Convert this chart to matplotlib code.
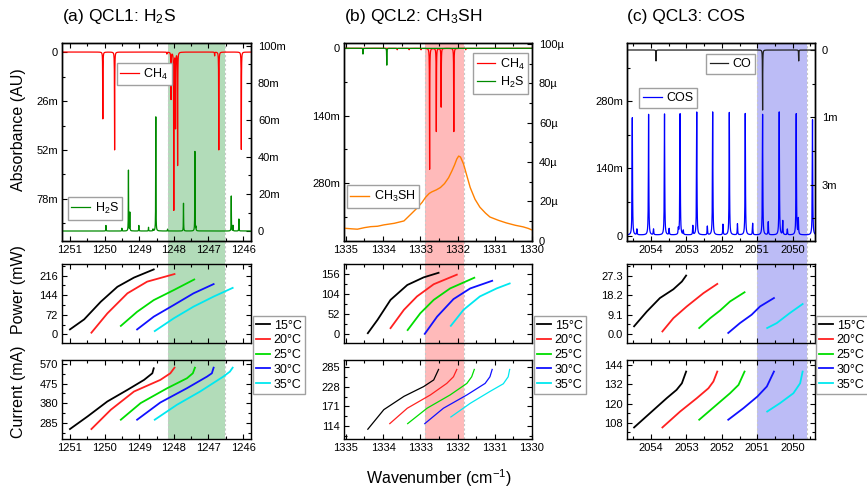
import numpy as np
import matplotlib
matplotlib.use('Agg')
import matplotlib.pyplot as plt
from matplotlib.ticker import (EngFormatter, MultipleLocator, AutoMinorLocator,
                               FixedLocator, FixedFormatter, FormatStrFormatter)
from matplotlib.transforms import blended_transform_factory
from matplotlib.patches import Rectangle
from matplotlib.lines import Line2D

plt.rcParams['font.family'] = ['Liberation Sans', 'DejaVu Sans']
plt.rcParams['mathtext.default'] = 'regular'

# ------------------------------------------------------------------ data
TEMPS = ['15°C', '20°C', '25°C', '30°C', '35°C']
TEMP_COLORS = ['#000000', '#ff2020', '#00dd00', '#1010ff', '#00e8f0']

# ---- Panel (a) QCL1: H2S
A_CH4_POS = [1250.05, 1249.71, 1248.20, 1248.08, 1248.00, 1247.95, 1247.89, 1246.82, 1246.70, 1246.05]
A_CH4_DEPTH = [35.5e-3, 52e-3, 1e-3, 25e-3, 84e-3, 40e-3, 60e-3, 2e-3, 52e-3, 52e-3]
A_H2S_POS = [1249.96, 1249.50, 1249.31, 1249.27, 1249.01, 1248.73, 1248.60, 1248.52,
             1248.18, 1247.72, 1247.39, 1247.36, 1246.34, 1246.29, 1246.12]
A_H2S_HEIGHT = [3e-3, 1.5e-3, 33e-3, 10e-3, 3e-3, 2e-3, 1e-3, 62e-3,
                1e-3, 15e-3, 43e-3, 2e-3, 19e-3, 3e-3, 6.5e-3]
A_SPAN = (1248.18, 1246.52)

A_POW_WN = [[1251.0, 1250.59, 1250.11, 1249.63, 1249.15, 1248.58],
            [1250.38, 1249.92, 1249.34, 1248.77, 1247.98],
            [1249.53, 1249.06, 1248.58, 1248.0, 1247.41],
            [1249.06, 1248.58, 1248.0, 1247.43, 1246.85],
            [1248.55, 1248.0, 1247.43, 1246.85, 1246.30]]
A_POW = [[18, 55, 120, 175, 209, 239],
         [6, 77, 151, 194, 222],
         [31, 83, 126, 163, 202],
         [18, 65, 108, 151, 185],
         [12, 59, 102, 139, 171]]
A_CUR_WN = [[1251.0, 1250.49, 1249.92, 1249.34, 1248.86, 1248.62, 1248.58],
            [1250.38, 1249.82, 1249.15, 1248.39, 1248.10, 1247.98],
            [1249.53, 1248.96, 1248.19, 1247.62, 1247.45, 1247.39],
            [1249.06, 1248.39, 1247.62, 1247.04, 1246.90, 1246.85],
            [1248.55, 1247.91, 1247.24, 1246.57, 1246.38, 1246.30]]
A_CUR = [[256, 317, 389, 445, 493, 525, 549],
         [256, 349, 437, 493, 525, 552],
         [301, 381, 453, 501, 525, 552],
         [301, 384, 453, 509, 525, 552],
         [301, 373, 437, 509, 533, 552]]

# ---- Panel (b) QCL2: CH3SH
B_CH4_POS = [1333.62, 1333.30, 1332.98, 1332.75, 1332.57, 1332.44, 1332.10, 1331.78]
B_CH4_DEPTH = [3e-3, 3e-3, 3e-3, 252e-3, 173e-3, 122e-3, 173e-3, 3e-3]
B_H2S_POS = [1334.54, 1333.90]
B_H2S_DEPTH = [12e-3, 35e-3]
B_CH3SH_WN = [1335.05, 1334.85, 1334.69, 1334.50, 1334.33, 1334.15, 1333.98, 1333.70, 1333.44,
              1333.25, 1333.09, 1332.95, 1332.86, 1332.76, 1332.69, 1332.57, 1332.46, 1332.35,
              1332.24, 1332.15, 1332.08, 1332.02, 1331.97, 1331.92, 1331.84, 1331.75, 1331.66,
              1331.53, 1331.40, 1331.25, 1331.13, 1330.90, 1330.69, 1330.45, 1330.24, 1330.10, 1330.0]
B_CH3SH = [6.3e-6, 6.0e-6, 5.8e-6, 6.6e-6, 7.1e-6, 7.3e-6, 8.0e-6, 8.8e-6, 10.0e-6,
           13.5e-6, 16.5e-6, 19.5e-6, 22.0e-6, 24.0e-6, 24.8e-6, 25.8e-6, 27.0e-6, 29.0e-6,
           32.0e-6, 35.5e-6, 38.5e-6, 41.5e-6, 43.0e-6, 42.5e-6, 39.0e-6, 33.0e-6, 27.0e-6,
           21.0e-6, 17.0e-6, 14.0e-6, 12.0e-6, 10.3e-6, 9.0e-6, 7.8e-6, 7.0e-6, 6.2e-6, 5.4e-6]
B_SPAN = (1332.87, 1331.83)

B_POW_WN = [[1334.41, 1334.15, 1333.80, 1333.35, 1332.91, 1332.51],
            [1333.80, 1333.44, 1333.09, 1332.64, 1332.02],
            [1333.34, 1333.0, 1332.64, 1332.20, 1331.55],
            [1332.88, 1332.55, 1332.11, 1331.66, 1331.07],
            [1332.18, 1331.84, 1331.40, 1330.95, 1330.60]]
B_POW = [[1.7, 36.6, 89, 128, 148, 160],
         [15, 63, 98, 130, 155],
         [10, 54, 89, 119, 147],
         [0, 45, 91, 119, 139],
         [21, 63, 98, 119, 132]]
B_CUR_WN = [[1334.41, 1333.98, 1333.44, 1332.91, 1332.64, 1332.51],
            [1333.82, 1333.35, 1332.73, 1332.29, 1332.11, 1332.02],
            [1333.34, 1332.82, 1332.20, 1331.75, 1331.62, 1331.55],
            [1332.88, 1332.38, 1331.75, 1331.26, 1331.13, 1331.07],
            [1332.18, 1331.66, 1331.13, 1330.77, 1330.64, 1330.60]]
B_CUR = [[106, 162, 200, 228, 247, 277],
         [122, 166, 204, 237, 256, 277],
         [122, 166, 204, 237, 256, 277],
         [122, 166, 204, 237, 256, 277],
         [141, 180, 214, 236, 256, 277]]

# ---- Panel (c) QCL3: COS
C_COS_POS = [2054.53, 2054.07, 2053.62, 2053.18, 2052.71, 2052.26, 2051.79, 2051.34,
             2050.85, 2050.38, 2049.90, 2049.44,
             2054.40, 2053.93, 2053.49, 2053.23, 2053.09, 2052.82, 2052.41, 2051.97,
             2051.56, 2051.13, 2050.69, 2050.28, 2050.15, 2049.84]
C_COS_HEIGHT = [244e-3, 251e-3, 252e-3, 252e-3, 256e-3, 256e-3, 255e-3, 253e-3,
                251e-3, 256e-3, 252e-3, 240e-3,
                12e-3, 12e-3, 13e-3, 12e-3, 9e-3, 19e-3, 18e-3, 22e-3,
                23e-3, 24e-3, 27e-3, 29e-3, 12e-3, 33e-3]
C_COS_BASE = 1.5e-3
C_CO_POS = [2053.86, 2050.85, 2049.83]
C_CO_DEPTH = [0.245e-3, 1.34e-3, 0.245e-3]
C_SPAN = (2051.0, 2049.6)

C_POW_WN = [[2054.48, 2054.12, 2053.75, 2053.37, 2053.13, 2053.01],
            [2053.68, 2053.37, 2052.99, 2052.52, 2052.13],
            [2052.64, 2052.33, 2052.05, 2051.77, 2051.36],
            [2051.82, 2051.49, 2051.16, 2050.92, 2050.53],
            [2050.72, 2050.45, 2050.08, 2049.72]]
C_POW = [[3.6, 10.5, 16.8, 20.9, 24.5, 27.3],
         [1.2, 7.4, 12.9, 19.1, 23.4],
         [2.8, 7.4, 11.0, 15.2, 19.5],
         [0.5, 5.1, 9.0, 12.9, 16.8],
         [2.8, 5.1, 9.8, 14.0]]
C_CUR_WN = [[2054.48, 2054.03, 2053.56, 2053.28, 2053.13, 2053.01],
            [2053.68, 2053.18, 2052.71, 2052.38, 2052.24, 2052.13],
            [2052.64, 2052.15, 2051.77, 2051.53, 2051.36],
            [2051.82, 2051.39, 2051.0, 2050.73, 2050.53],
            [2050.72, 2050.36, 2049.98, 2049.79, 2049.72]]
C_CUR = [[105.1, 114.0, 123.3, 128.5, 132.6, 139.9],
         [105.1, 115.0, 123.3, 129.5, 133.7, 139.9],
         [109.9, 119.2, 126.4, 131.6, 139.9],
         [109.9, 117.1, 124.3, 130.6, 139.9],
         [115.0, 120.2, 126.4, 132.6, 139.9]]

TITLES = ['(a) QCL1: H$_2$S', '(b) QCL2: CH$_3$SH', '(c) QCL3: COS']

# ------------------------------------------------------------------ layout
W, H = 867, 490
fig = plt.figure(figsize=(W / 100, H / 100), dpi=100)


def rect(l, t, r, b):
    return [l / W, 1 - b / H, (r - l) / W, (b - t) / H]


COLS = [(62, 251), (344, 532), (627, 815)]
ROWS = [(43, 241), (264, 343), (360, 439)]
XLIMS = [(1251.23, 1245.77), (1335.05, 1330.0), (2054.68, 2049.37)]
SPANS = [A_SPAN, B_SPAN, C_SPAN]
SPAN_COLORS = ['#b2dcb9', '#ffbaba', '#bcbcf6']

TICK_FS = 8
LEG_FS = 9
eng = EngFormatter(sep='')


def style(ax, right=True):
    ax.set_facecolor('none')
    ax.tick_params(which='both', direction='in', top=True, right=right, labelsize=TICK_FS, pad=3)
    ax.tick_params(which='major', length=3.5, width=0.8)
    ax.tick_params(which='minor', length=2.3, width=0.8)
    for s in ax.spines.values():
        s.set_linewidth(1.0)


def lorentz(x, pos, amp, w):
    y = np.zeros_like(x)
    for p, a in zip(pos, amp):
        y += a * w ** 2 / ((x - p) ** 2 + w ** 2)
    return y


axes = []
for ci, (l, r) in enumerate(COLS):
    col = []
    for ri, (t, b) in enumerate(ROWS):
        ax = fig.add_axes(rect(l, t, r, b))
        ax.set_xlim(*XLIMS[ci])
        ax.xaxis.set_major_locator(MultipleLocator(1))
        ax.xaxis.set_minor_locator(MultipleLocator(0.5))
        ax.xaxis.set_major_formatter(FormatStrFormatter('%d'))
        col.append(ax)
    axes.append(col)

# shaded laser windows spanning all three rows
for ci in range(3):
    tr = blended_transform_factory(axes[ci][0].transData, fig.transFigure)
    x0, x1 = SPANS[ci]
    y0, y1 = 1 - ROWS[2][1] / H, 1 - ROWS[0][0] / H
    fig.add_artist(Rectangle((x0, y0), x1 - x0, y1 - y0, transform=tr,
                             facecolor=SPAN_COLORS[ci], edgecolor='none', zorder=-1))
    for xv in (x0, x1):
        fig.add_artist(Line2D([xv, xv], [y0, y1], transform=tr, color='#c8c8c8',
                              lw=0.8, ls=(0, (2, 2)), zorder=-0.5))

leg_kw = dict(fontsize=LEG_FS, fancybox=False, edgecolor='#a0a0a0', framealpha=1,
              borderaxespad=0, borderpad=0.3, handlelength=1.5, handletextpad=0.35,
              labelspacing=0.25)

# ---- top (a)
ax = axes[0][0]
axr = ax.twinx()
xa = np.linspace(1245.77, 1251.23, 9000)
l1, = ax.plot(xa, lorentz(xa, A_CH4_POS, A_CH4_DEPTH, 0.004), color='#ff0000', lw=0.9)
ax.set_ylim(100.3e-3, -4.8e-3)
ax.yaxis.set_major_locator(FixedLocator([0, 26e-3, 52e-3, 78e-3]))
ax.yaxis.set_minor_locator(FixedLocator([13e-3, 39e-3, 65e-3, 91e-3]))
ax.yaxis.set_major_formatter(eng)
l2, = axr.plot(xa, lorentz(xa, A_H2S_POS, A_H2S_HEIGHT, 0.004), color='#008a00', lw=0.9)
axr.set_ylim(-5.4e-3, 101.6e-3)
axr.yaxis.set_major_locator(MultipleLocator(20e-3))
axr.yaxis.set_minor_locator(MultipleLocator(10e-3))
axr.yaxis.set_major_formatter(eng)
style(ax, right=False)
style(axr)
axr.tick_params(which='both', left=False, top=False, pad=5)
lg = axr.legend([l1], ['CH$_4$'], loc='upper left', bbox_to_anchor=(0.289, 0.90), **leg_kw)
axr.add_artist(lg)
axr.legend([l2], ['H$_2$S'], loc='upper left', bbox_to_anchor=(0.03, 0.222), **leg_kw)

# ---- top (b)
ax = axes[1][0]
axr = ax.twinx()
xb = np.linspace(1330.0, 1335.05, 9000)
l1, = ax.plot(xb, lorentz(xb, B_CH4_POS, B_CH4_DEPTH, 0.004), color='#ff0000', lw=0.9)
l2, = ax.plot(xb, lorentz(xb, B_H2S_POS, B_H2S_DEPTH, 0.004), color='#008a00', lw=0.9)
ax.set_ylim(400e-3, -11e-3)
ax.yaxis.set_major_locator(FixedLocator([0, 140e-3, 280e-3]))
ax.yaxis.set_minor_locator(FixedLocator([70e-3, 210e-3, 350e-3]))
ax.yaxis.set_major_formatter(eng)
l3, = axr.plot(B_CH3SH_WN, B_CH3SH, color='#ff8000', lw=1.0)
axr.set_ylim(-0.2e-6, 100.5e-6)
axr.yaxis.set_major_locator(MultipleLocator(20e-6))
axr.yaxis.set_minor_locator(MultipleLocator(10e-6))
axr.yaxis.set_major_formatter(eng)
style(ax, right=False)
style(axr)
axr.tick_params(which='both', left=False, top=False, pad=5)
lg = axr.legend([l1, l2], ['CH$_4$', 'H$_2$S'], loc='upper left', bbox_to_anchor=(0.685, 0.951), **leg_kw)
axr.add_artist(lg)
axr.legend([l3], ['CH$_3$SH'], loc='upper left', bbox_to_anchor=(0.014, 0.281), **leg_kw)

# ---- top (c)
ax = axes[2][0]
axr = ax.twinx()
xc = np.linspace(2049.37, 2054.68, 9000)
l1, = ax.plot(xc, C_COS_BASE + lorentz(xc, C_COS_POS, C_COS_HEIGHT, 0.007), color='#0000ff', lw=0.9)
ax.set_ylim(-11e-3, 401e-3)
ax.yaxis.set_major_locator(FixedLocator([0, 140e-3, 280e-3]))
ax.yaxis.set_minor_locator(FixedLocator([70e-3, 210e-3, 350e-3]))
ax.yaxis.set_major_formatter(eng)
l2, = axr.plot(xc, lorentz(xc, C_CO_POS, C_CO_DEPTH, 0.004), color='#202020', lw=0.9)
axr.set_ylim(4.26e-3, -0.156e-3)
axr.yaxis.set_major_locator(FixedLocator([0, 1.5e-3, 3e-3]))
axr.yaxis.set_major_formatter(FixedFormatter(['0', '1m', '3m']))
axr.yaxis.set_minor_locator(FixedLocator([0.75e-3, 2.25e-3, 3.75e-3]))
style(ax, right=False)
style(axr)
axr.tick_params(which='both', left=False, top=False, pad=5)
lg = axr.legend([l2], ['CO'], loc='upper left', bbox_to_anchor=(0.42, 0.943), **leg_kw)
axr.add_artist(lg)
axr.legend([l1], ['COS'], loc='upper left', bbox_to_anchor=(0.064, 0.771), **leg_kw)

# ---- power / current rows
POW = [(A_POW_WN, A_POW), (B_POW_WN, B_POW), (C_POW_WN, C_POW)]
CUR = [(A_CUR_WN, A_CUR), (B_CUR_WN, B_CUR), (C_CUR_WN, C_CUR)]
POW_LIM = [(-32, 259), (-24, 183), (-4.2, 32.7)]
CUR_LIM = [(208, 589), (78, 304), (97.9, 147.1)]
POW_TICKS = [[0, 72, 144, 216], [0, 52, 104, 156], [0.0, 9.1, 18.2, 27.3]]
CUR_TICKS = [[285, 380, 475, 570], [114, 171, 228, 285], [108, 120, 132, 144]]
POW_FMT = ['%d', '%d', '%.1f']
LEG_X = [253, 534, 816]

for ci in range(3):
    axp = axes[ci][1]
    axc = axes[ci][2]
    handles = []
    for k in range(5):
        h, = axp.plot(POW[ci][0][k], POW[ci][1][k], color=TEMP_COLORS[k], lw=1.3)
        axc.plot(CUR[ci][0][k], CUR[ci][1][k], color=TEMP_COLORS[k], lw=1.3 if ci != 1 else 0.9)
        handles.append(h)
    axp.set_ylim(*POW_LIM[ci])
    axc.set_ylim(*CUR_LIM[ci])
    axp.yaxis.set_major_locator(FixedLocator(POW_TICKS[ci]))
    axc.yaxis.set_major_locator(FixedLocator(CUR_TICKS[ci]))
    axp.yaxis.set_major_formatter(FormatStrFormatter(POW_FMT[ci]))
    axc.yaxis.set_major_formatter(FormatStrFormatter('%d'))
    axp.yaxis.set_minor_locator(AutoMinorLocator(2))
    axc.yaxis.set_minor_locator(AutoMinorLocator(2))
    style(axp)
    style(axc)
    axp.tick_params(labelbottom=False)
    fig.legend(handles, TEMPS, loc='center left',
               bbox_to_anchor=(LEG_X[ci] / W, 1 - 355 / H),
               fontsize=LEG_FS, fancybox=False, edgecolor='#a0a0a0', framealpha=1,
               borderaxespad=0, borderpad=0.25, handlelength=1.1, handletextpad=0.3,
               labelspacing=0.22)

for ci in range(3):
    axes[ci][0].tick_params(which='both', right=False)

# ---- labels
for ci in range(3):
    fig.text(COLS[ci][0] / W, 1 - 17 / H, TITLES[ci], fontsize=12.5, ha='left', va='center')
fig.text(19 / W, 1 - 130 / H, 'Absorbance (AU)', rotation=90, fontsize=11.5, ha='center', va='center')
fig.text(19 / W, 1 - 290 / H, 'Power (mW)', rotation=90, fontsize=11.5, ha='center', va='center')
fig.text(19 / W, 1 - 392 / H, 'Current (mA)', rotation=90, fontsize=11.5, ha='center', va='center')
fig.text(439 / W, 1 - 478 / H, 'Wavenumber (cm$^{-1}$)', fontsize=11.5, ha='center', va='center')

fig.savefig('out.png', dpi=100, facecolor='white')
